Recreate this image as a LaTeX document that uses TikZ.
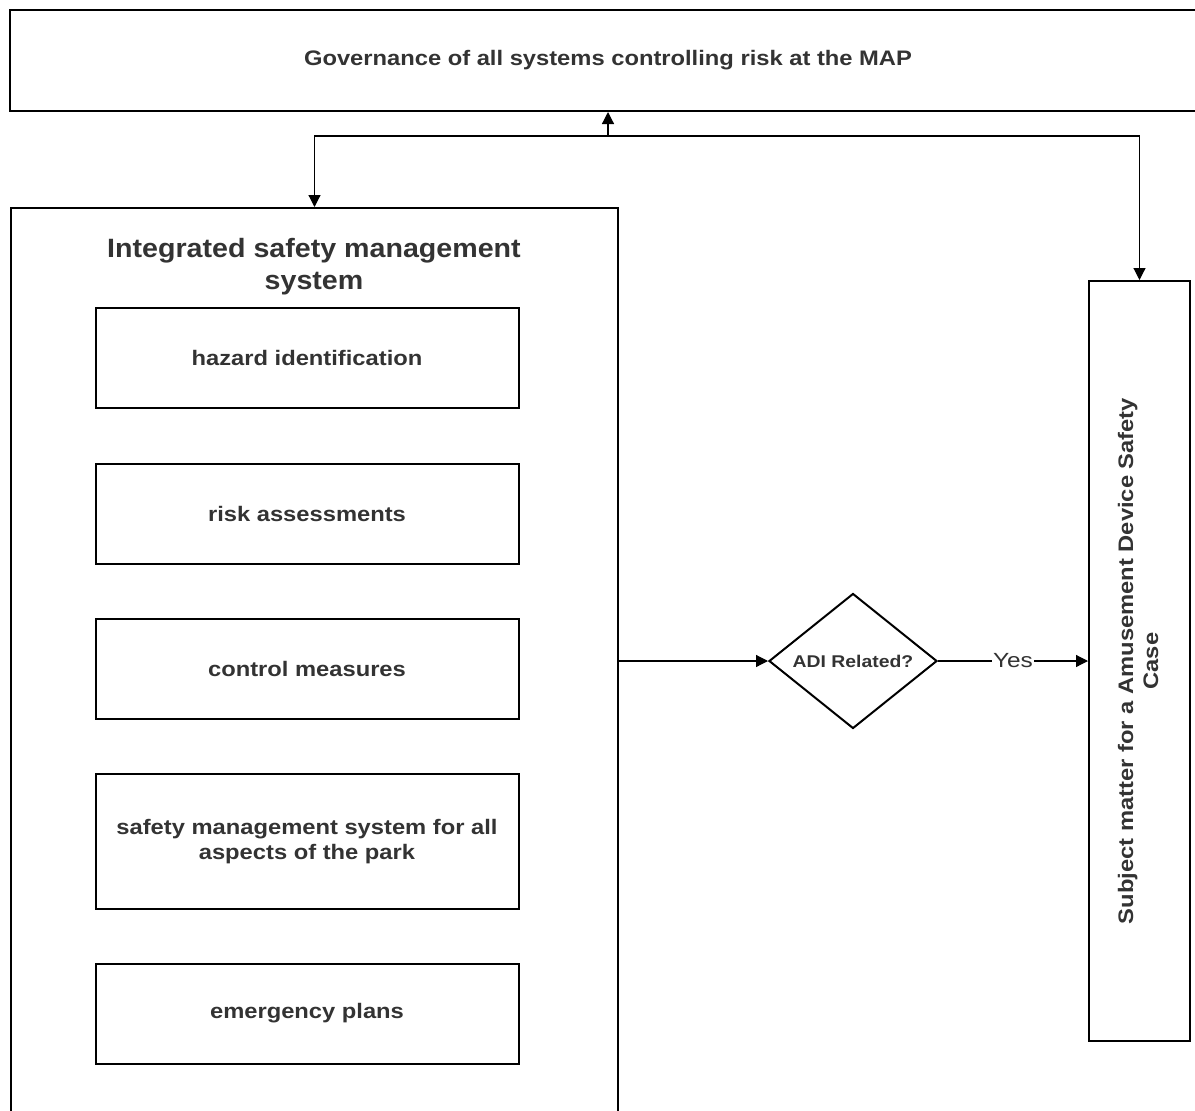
\documentclass[tikz,border=0pt]{standalone}
\usepackage{fontspec}
\setmainfont{Liberation Sans}
\newfontfamily\widefont[FakeStretch=1.13]{Liberation Sans}
\newfontfamily\titlefont[FakeStretch=1.08]{Liberation Sans}
\newfontfamily\adifont[FakeStretch=1.14]{Liberation Sans}
\newfontfamily\yesfont[FakeStretch=1.19]{Liberation Sans}
\usetikzlibrary{arrows.meta,shapes.geometric}
\definecolor{txt}{HTML}{333333}
\tikzset{
  box/.style={draw=black,line width=2pt,fill=white,text=txt,font=\widefont\bfseries\fontsize{21}{25}\selectfont,align=center,inner sep=0pt},
  inbox/.style={box,minimum width=423pt,minimum height=100pt},
  conn/.style={draw=black,line width=1.2pt},
  tip/.style={-{Triangle[length=12pt,width=12pt]}},
  tips/.style={{Triangle[length=12pt,width=12pt]}-{Triangle[length=12pt,width=12pt]}}
}
\begin{document}
\begin{tikzpicture}[x=1pt,y=-1pt]
\useasboundingbox (0,0) rectangle (1195,1111);
% top governance box
\node[box,minimum width=1196pt,minimum height=101pt] (top) at (608,60.5) {Governance of all systems controlling risk at the MAP};
% big ISMS box
\node[box,minimum width=607pt,minimum height=913pt,anchor=north west] (big) at (10,207) {};
\node[text=txt,font=\titlefont\bfseries\fontsize{26.5}{32}\selectfont,align=center] (title) at (314,267) {Integrated safety management\\system};
\node[inbox] (b1) at (307,358) {hazard identification};
\node[inbox] (b2) at (307,513.5) {risk assessments};
\node[inbox] (b3) at (307,669) {control measures};
\node[inbox,minimum height=135pt] (b4) at (307,841.5) {safety management system for all\\aspects of the park};
\node[inbox] (b5) at (307,1013.5) {emergency plans};
% decision
\node[draw=black,line width=2pt,diamond,minimum width=168pt,minimum height=135pt,inner sep=0pt,text=txt,font=\adifont\bfseries\fontsize{17}{20}\selectfont] (adi) at (853,661) {ADI Related?};
% right box
\node[box,minimum width=101pt,minimum height=760pt] (case) at (1139.5,661) {};
\node[rotate=90,text=txt,font=\widefont\bfseries\fontsize{21}{25}\selectfont,align=center] (casetext) at (1138,661) {Subject matter for a Amusement Device Safety\\Case};
% connectors
\coordinate (j) at (608,136);
\draw[conn,tips] (big.north) |- (j) -- (j |- top.south);
\draw[conn,tip] (j) -| (case.north);
\draw[conn,tip] (big.east |- adi.west) -- (adi.west);
\node[text=txt,font=\yesfont\fontsize{20.5}{24}\selectfont,fill=white,inner sep=1pt] (yes) at (1013,661) {Yes};
\draw[conn] (adi.east) -- (yes.west);
\draw[conn,tip] (yes.east) -- (case.west |- adi.east);
\end{tikzpicture}
\end{document}
